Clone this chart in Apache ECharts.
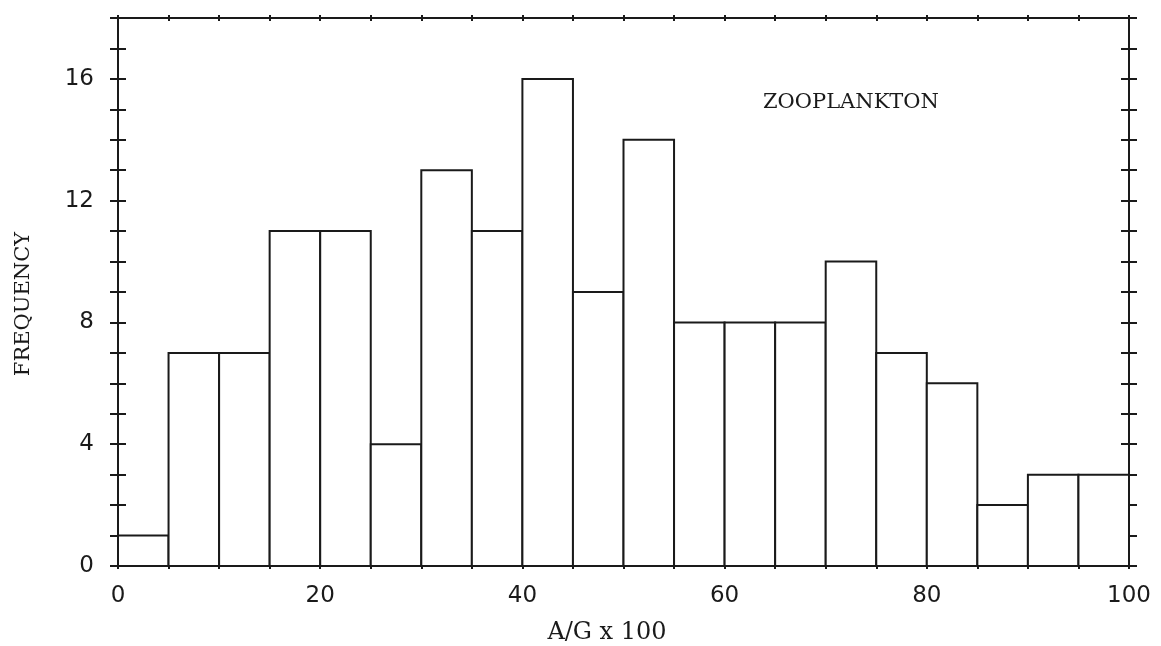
<!DOCTYPE html>
<html>
<head>
<meta charset="utf-8">
<script src="https://cdn.jsdelivr.net/npm/echarts@6/dist/echarts.min.js"></script>
<style>
  html, body { margin: 0; padding: 0; background: #fff; }
  #chart { width: 1161px; height: 646px; }
</style>
</head>
<body>
<div id="chart"></div>
<script>
// Histogram of A/G x 100: bin edges and the count in each bin
const binStarts = [0, 5, 10, 15, 20, 25, 30, 35, 40, 45, 50, 55, 60, 65, 70, 75, 80, 85, 90, 95];
const binEnds   = [5, 10, 15, 20, 25, 30, 35, 40, 45, 50, 55, 60, 65, 70, 75, 80, 85, 90, 95, 100];
const frequencies = [1, 7, 7, 11, 11, 4, 13, 11, 16, 9, 14, 8, 8, 8, 10, 7, 6, 2, 3, 3];

// Labelled tick values on each axis
const xTickLabels = [0, 20, 40, 60, 80, 100];
const yTickLabels = [0, 4, 8, 12, 16];

const panelLabel = 'ZOOPLANKTON';
const xAxisTitle = 'A/G x 100';
const yAxisTitle = 'FREQUENCY';

const INK = '#1a1a1a';
const serifFont = '"DejaVu Serif"';
const sans = 'DejaVu Sans';

const chart = echarts.init(document.getElementById('chart'), null, { renderer: 'canvas' });

// One x axis of the frame; a pair (inward + outward ticks) gives crossing marks
function xFrame(position, inside, showLine, extra) {
  return Object.assign({
    type: 'value', position: position, min: 0, max: 100, interval: 5,
    axisLine: { show: showLine, onZero: false, lineStyle: { color: INK, width: 2 } },
    axisTick: { show: true, inside: inside, length: 3, lineStyle: { color: INK, width: 2 } },
    axisLabel: { show: false },
    splitLine: { show: false }
  }, extra || {});
}
function yFrame(position, inside, showLine, extra) {
  return Object.assign({
    type: 'value', position: position, min: 0, max: 18, interval: 1,
    axisLine: { show: showLine, onZero: false, lineStyle: { color: INK, width: 2 } },
    axisTick: { show: true, inside: inside, length: 8, lineStyle: { color: INK, width: 2 } },
    axisLabel: { show: false },
    splitLine: { show: false }
  }, extra || {});
}

const option = {
  backgroundColor: '#ffffff',
  animation: false,
  grid: { left: 118, right: 32, top: 18, bottom: 80, containLabel: false },
  xAxis: [
    xFrame('bottom', true, true, {
      axisLabel: {
        show: true, margin: 19, color: INK, fontFamily: sans, fontSize: 23,
        formatter: v => (xTickLabels.indexOf(v) >= 0 ? String(v) : '')
      }
    }),
    xFrame('bottom', false, false),
    xFrame('top', true, true),
    xFrame('top', false, false)
  ],
  yAxis: [
    yFrame('left', true, true, {
      axisLabel: {
        show: true, margin: 24, color: INK, fontFamily: sans, fontSize: 23,
        formatter: v => (yTickLabels.indexOf(v) >= 0 ? String(v) : '')
      }
    }),
    yFrame('left', false, false),
    yFrame('right', true, true),
    yFrame('right', false, false)
  ],
  graphic: [
    {
      type: 'text', left: 763, top: 92,
      style: { text: panelLabel, fill: INK, font: '21px ' + serifFont }
    },
    {
      type: 'text', x: 607, y: 633,
      style: { text: xAxisTitle, fill: INK, font: '24px ' + serifFont, align: 'center', verticalAlign: 'middle' }
    },
    {
      type: 'text', x: 24, y: 304, rotation: Math.PI / 2,
      style: { text: yAxisTitle, fill: INK, font: '21px ' + serifFont, align: 'center', verticalAlign: 'middle' }
    }
  ],
  series: [{
    type: 'custom',
    xAxisIndex: 0, yAxisIndex: 0,
    data: binStarts.map((s, i) => [s, binEnds[i], frequencies[i]]),
    encode: { x: [0, 1], y: 2 },
    renderItem: function (params, api) {
      const base = api.coord([api.value(0), 0]);
      const top = api.coord([api.value(1), api.value(2)]);
      return {
        type: 'rect',
        shape: { x: base[0], y: top[1], width: top[0] - base[0], height: base[1] - top[1] },
        style: { fill: '#ffffff', stroke: INK, lineWidth: 2 }
      };
    }
  }]
};

chart.setOption(option);
</script>
</body>
</html>
